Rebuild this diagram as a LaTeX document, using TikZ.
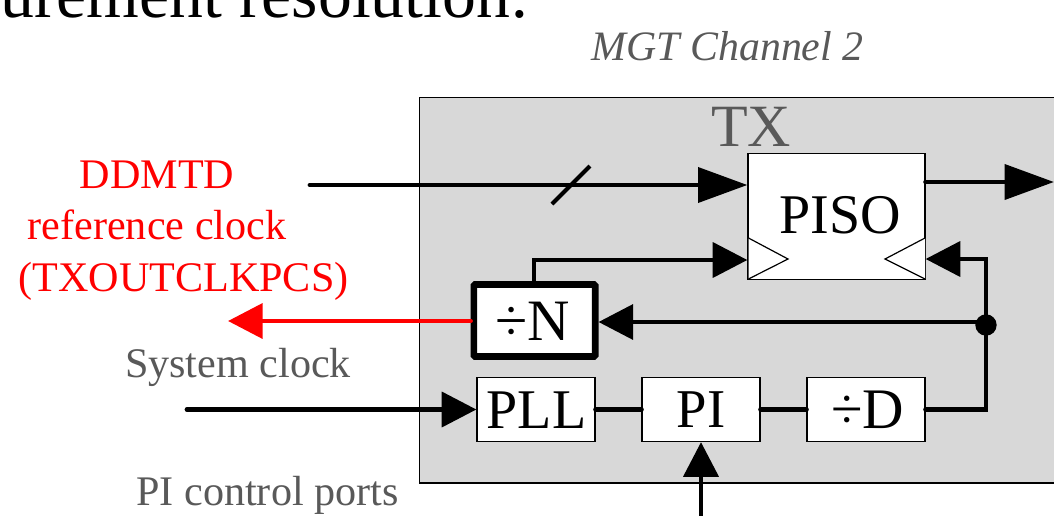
\documentclass[tikz,border=0pt]{standalone}
\usepackage{fontspec}
\setmainfont{Liberation Serif}
\usetikzlibrary{arrows.meta}
\definecolor{panel}{RGB}{216,216,216}
\definecolor{lab}{RGB}{89,89,89}
\tikzset{
 blockbox/.style={draw=black,fill=white,line width=0.9pt,inner sep=0pt,anchor=center},
 wire/.style={line width=3.6pt,draw=black,line cap=round},
 tip/.style={-{Triangle[length=37pt,width=26pt]}},
 smalltip/.style={-{Triangle[length=26pt,width=26pt]}},
 lbl/.style={text=black,inner sep=0pt},
 side/.style={font=\fontsize{31.6pt}{38pt}\selectfont,inner sep=0pt,anchor=base},
}
\begin{document}
\begin{tikzpicture}[x=0.75pt,y=-0.75pt,line join=miter]
\useasboundingbox (0,0) rectangle (1054,515);
\fill[white] (0,0) rectangle (1054,515);
\node[font=\fontsize{50.8pt}{52pt}\selectfont,inner sep=0pt,anchor=base west] (hdr) at (0,17) {urement resolution:};
\node[font=\fontsize{31.4pt}{33pt}\itshape\selectfont,text=lab,inner sep=0pt] (ch) at (727.5,46) {MGT Channel 2};
\begin{scope}
\clip (0,0) rectangle (1054,515);
\node[draw=black,fill=panel,line width=0.9pt,minimum width=480pt,minimum height=289pt,inner sep=0pt,anchor=north west] (panel) at (418.5,97) {};
\end{scope}
\node[font=\fontsize{45pt}{46pt}\selectfont,text=lab,inner sep=0pt] (tx) at (751,127) {TX};
\node[blockbox,minimum width=132.75pt,minimum height=94pt] (piso) at (836.5,216.5) {};
\node[lbl,font=\fontsize{42pt}{44pt}\selectfont] (pisot) at (840.5,215) {PISO};
\node[blockbox,minimum width=88.5pt,minimum height=48pt] (pll) at (536,409.5) {};
\node[lbl,font=\fontsize{42pt}{44pt}\selectfont] (pllt) at (536.5,410) {PLL};
\node[blockbox,minimum width=88.5pt,minimum height=48pt] (pi) at (701,409.5) {};
\node[lbl,font=\fontsize{41pt}{44pt}\selectfont] (pit) at (701,410) {PI};
\node[blockbox,minimum width=88.5pt,minimum height=48pt] (d) at (866,409.5) {};
\node[lbl,font=\fontsize{43pt}{44pt}\selectfont] (dt) at (867.5,410) {÷D};
\node[draw=black,fill=white,line width=5pt,rounded corners=1pt,minimum width=91pt,minimum height=54pt,inner sep=0pt] (n) at (534.5,320.5) {};
\node[lbl,font=\fontsize{44pt}{46pt}\selectfont] (nt) at (533,321) {÷N};
\draw[line width=0.9pt,draw=black,fill=white] (748.5,238) -- (788,259) -- (748.5,279);
\draw[line width=0.9pt,draw=black,fill=white] (925,238) -- (885,259) -- (925,279);
\coordinate (j) at (986,325);
\coordinate (jn) at (986,322);
\coordinate (jc) at (986,259);
\coordinate (nc) at (534,260);
\coordinate (din) at (310,185);
\coordinate (sysin) at (187,409.5);
\coordinate (piin) at (701,520);
\coordinate (out) at (1054,182);
\coordinate (cl) at (228,321);
\draw[wire,tip] (din) -- (piso.west |- din);
\draw[line width=3pt,draw=black] (552,204) -- (590,166);
\draw[wire,tip] (piso.east |- out) -- (out);
\draw[wire,smalltip] (n.north -| nc) -- (nc) -- (piso.west |- nc);
\draw[wire,smalltip] (j) -- (jc) -- (piso.east |- jc);
\draw[wire,smalltip] (jn) -- (n.east |- jn);
\draw[wire] (d.east) -| (j);
\fill (j) circle (8pt);
\draw[wire,smalltip] (sysin) -- (pll.west);
\draw[wire] (pll.east) -- (pi.west);
\draw[wire] (pi.east) -- (d.west);
\draw[wire,smalltip] (piin) -- (pi.south);
\draw[line width=3.6pt,draw=red,line cap=round,-{Triangle[length=26pt,width=26pt]}] (n.west |- cl) -- (cl);
\node[side,text=red] (ref1) at (157,188) {DDMTD};
\node[side,text=red] (ref2) at (157,239) {reference clock};
\node[side,text=red] (ref3) at (183.5,291) {(TXOUTCLKPCS)};
\node[side,text=lab] (sys) at (238,377) {System clock};
\node[side,text=lab] (pic) at (267.5,505.5) {PI control ports};
\end{tikzpicture}
\end{document}
